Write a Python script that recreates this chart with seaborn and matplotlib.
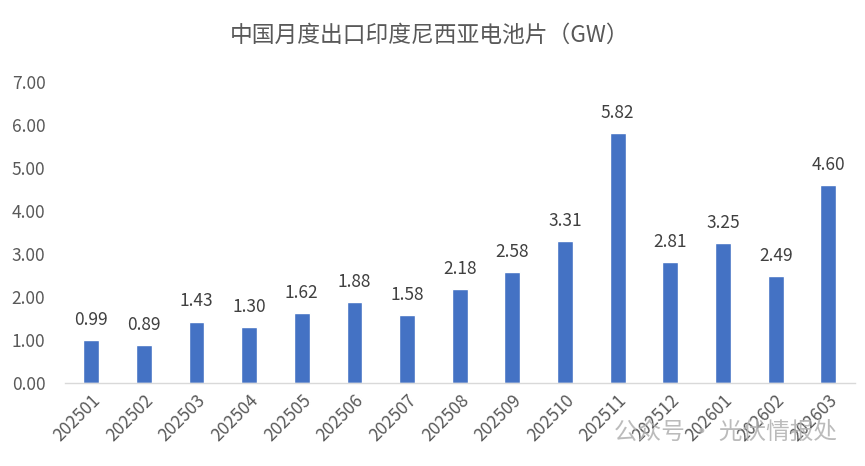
import pandas as pd
import seaborn as sns
import matplotlib.pyplot as plt

months = ['202501', '202502', '202503', '202504', '202505', '202506', '202507', '202508',
          '202509', '202510', '202511', '202512', '202601', '202602', '202603']
gw = [0.99, 0.89, 1.43, 1.30, 1.62, 1.88, 1.58, 2.18, 2.58, 3.31, 5.82, 2.81, 3.25, 2.49, 4.60]

df = pd.DataFrame({'month': months, 'gw': gw})

sns.set_style('white')
plt.rcParams['font.family'] = ['Noto Sans CJK SC', 'DejaVu Sans']

fig = plt.figure(figsize=(8.65, 4.66), dpi=100)
ax = fig.add_axes([0.075, 0.178, 0.913, 0.646])

sns.barplot(data=df, x='month', y='gw', color='#4472C4', saturation=1, width=0.3, ax=ax)

# value labels
for i, v in enumerate(gw):
    ax.annotate(f'{v:.2f}', (i, v), xytext=(0, 8), textcoords='offset points',
                ha='center', va='bottom', fontsize=12.5, color='#404040')

ax.set_ylim(0, 7)
ax.set_yticks(range(0, 8))
ax.set_yticklabels([f'{t:.2f}' for t in range(0, 8)])
ax.set_xlim(-0.5, len(months) - 0.5)
ax.set_xlabel('')
ax.set_ylabel('')
ax.tick_params(axis='both', length=0, labelsize=12.5, labelcolor='#595959')
ax.tick_params(axis='y', pad=14)
ax.tick_params(axis='x', pad=6)
plt.setp(ax.get_xticklabels(), rotation=45, ha='right', rotation_mode='anchor')

for s in ['top', 'right', 'left']:
    ax.spines[s].set_visible(False)
ax.spines['bottom'].set_color('#D9D9D9')
ax.spines['bottom'].set_linewidth(1)

fig.text(0.497, 0.925, '中国月度出口印度尼西亚电池片（GW）', ha='center', va='center',
         fontsize=16.4, color='#595959')

# watermark
fig.text(0.71, 0.073, '公众号 · 光伏情报处', ha='left', va='center',
         fontsize=17, color='#B0B0B0', alpha=0.85)

fig.savefig('out.png', dpi=100)
